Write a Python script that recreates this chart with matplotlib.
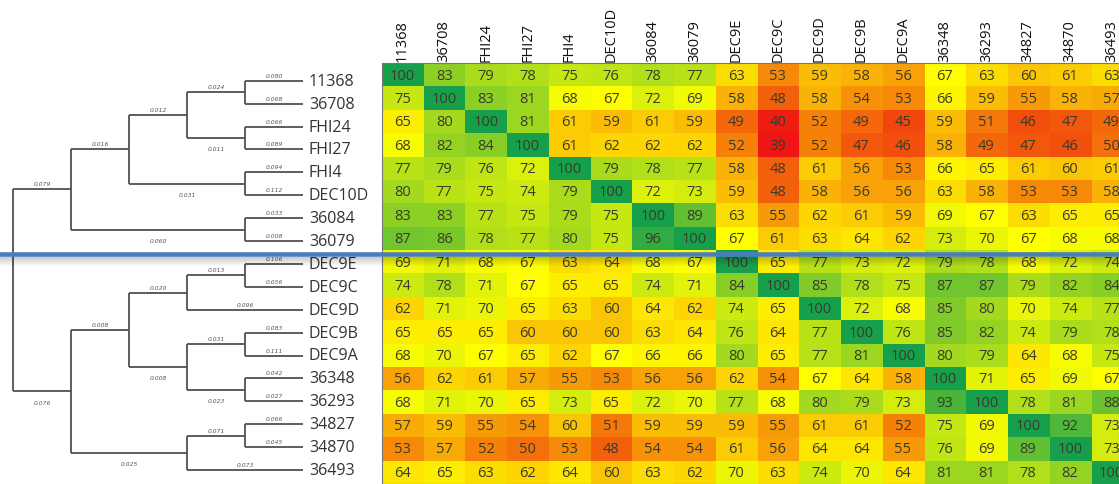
import matplotlib
matplotlib.use("Agg")
import matplotlib.pyplot as plt
import numpy as np
from matplotlib.colors import LinearSegmentedColormap, TwoSlopeNorm
from matplotlib.lines import Line2D

# ---------------- data ----------------
labels = ["11368", "36708", "FHI24", "FHI27", "FHI4", "DEC10D", "36084", "36079",
          "DEC9E", "DEC9C", "DEC9D", "DEC9B", "DEC9A", "36348", "36293",
          "34827", "34870", "36493"]

similarity = [
    [100, 83, 79, 78, 75, 76, 78, 77, 63, 53, 59, 58, 56, 67, 63, 60, 61, 63],
    [75, 100, 83, 81, 68, 67, 72, 69, 58, 48, 58, 54, 53, 66, 59, 55, 58, 57],
    [65, 80, 100, 81, 61, 59, 61, 59, 49, 40, 52, 49, 45, 59, 51, 46, 47, 49],
    [68, 82, 84, 100, 61, 62, 62, 62, 52, 39, 52, 47, 46, 58, 49, 47, 46, 50],
    [77, 79, 76, 72, 100, 79, 78, 77, 58, 48, 61, 56, 53, 66, 65, 61, 60, 61],
    [80, 77, 75, 74, 79, 100, 72, 73, 59, 48, 58, 56, 56, 63, 58, 53, 53, 58],
    [83, 83, 77, 75, 79, 75, 100, 89, 63, 55, 62, 61, 59, 69, 67, 63, 65, 65],
    [87, 86, 78, 77, 80, 75, 96, 100, 67, 61, 63, 64, 62, 73, 70, 67, 68, 68],
    [69, 71, 68, 67, 63, 64, 68, 67, 100, 65, 77, 73, 72, 79, 78, 68, 72, 74],
    [74, 78, 71, 67, 65, 65, 74, 71, 84, 100, 85, 78, 75, 87, 87, 79, 82, 84],
    [62, 71, 70, 65, 63, 60, 64, 62, 74, 65, 100, 72, 68, 85, 80, 70, 74, 77],
    [65, 65, 65, 60, 60, 60, 63, 64, 76, 64, 77, 100, 76, 85, 82, 74, 79, 78],
    [68, 70, 67, 65, 62, 67, 66, 66, 80, 65, 77, 81, 100, 80, 79, 64, 68, 75],
    [56, 62, 61, 57, 55, 53, 56, 56, 62, 54, 67, 64, 58, 100, 71, 65, 69, 67],
    [68, 71, 70, 65, 73, 65, 72, 70, 77, 68, 80, 79, 73, 93, 100, 78, 81, 88],
    [57, 59, 55, 54, 60, 51, 59, 59, 59, 55, 61, 61, 52, 75, 69, 100, 92, 73],
    [53, 57, 52, 50, 53, 48, 54, 54, 61, 56, 64, 64, 55, 76, 69, 89, 100, 73],
    [64, 65, 63, 62, 64, 60, 63, 62, 70, 63, 74, 70, 64, 81, 81, 78, 82, 100],
]

# tree: leaf = (name, branch_length); internal = ([children], branch_length)
tree = ([
    ([
        ([
            ([([("11368", 0.080), ("36708", 0.068)], 0.024),
              ([("FHI24", 0.066), ("FHI27", 0.089)], 0.011)], 0.012),
            ([("FHI4", 0.094), ("DEC10D", 0.112)], 0.031),
        ], 0.016),
        ([("36084", 0.033), ("36079", 0.008)], 0.060),
    ], 0.079),
    ([
        ([
            ([([("DEC9E", 0.106), ("DEC9C", 0.056)], 0.013), ("DEC9D", 0.096)], 0.020),
            ([([("DEC9B", 0.083), ("DEC9A", 0.111)], 0.031),
              ([("36348", 0.042), ("36293", 0.027)], 0.023)], 0.008),
        ], 0.008),
        ([([("34827", 0.066), ("34870", 0.045)], 0.071), ("36493", 0.073)], 0.025),
    ], 0.076),
], None)

# ---------------- figure ----------------
W, H = 1119, 485
fig = plt.figure(figsize=(W / 100, H / 100), dpi=100)
FONT = ["Open Sans", "DejaVu Sans"]

# ---- heatmap ----
hm_left, hm_top, col_w = 381.7, 64.4, 41.7
ax = fig.add_axes([hm_left / W, 0, 1 - hm_left / W, 1 - hm_top / H])
cmap = LinearSegmentedColormap.from_list("ryg", ["#ee1512", "#ffff00", "#17a04c"])
norm = TwoSlopeNorm(vmin=39, vcenter=67, vmax=100)
data = np.array(similarity)
ax.imshow(data, cmap=cmap, norm=norm, aspect="auto", interpolation="nearest")
n = len(labels)
ax.set_xlim(-0.5, -0.5 + (W - hm_left) / col_w)
ax.set_ylim(n - 0.5, -0.5)
for i in range(n):
    for j in range(n):
        ax.text(j, i, str(data[i, j]), ha="center", va="center",
                fontsize=10.5, color="#3a3a2a", family=FONT)
ax.xaxis.tick_top()
ax.set_xticks(range(n))
ax.set_xticklabels(labels, rotation=90, fontsize=10.5, family=FONT, color="#111111")
ax.tick_params(axis="x", length=0, pad=1.5)
ax.set_yticks([])
for s in ax.spines.values():
    s.set_color("#777777")
    s.set_linewidth(0.8)

# ---- dendrogram ----
leaf_top, leaf_step = 81.7, 22.9
level_px = 58.0
dax = fig.add_axes([0, 0, hm_left / W - 0.001, 1])
x_at = lambda px: (303 - px) / level_px
dax.set_xlim(x_at(0), x_at(hm_left - 1))
dax.set_ylim((H - leaf_top) / leaf_step, -leaf_top / leaf_step)
dax.axis("off")

LC = "#505050"
leaf_counter = [0]


def layout(node):
    name, blen = node
    if isinstance(name, str):
        y = leaf_counter[0]
        leaf_counter[0] += 1
        return y, 0, True
    kids = [layout(c) for c in name]
    h = 1 + max(k[1] for k in kids)
    ys = [k[0] for k in kids]
    dax.plot([h, h], [ys[0], ys[-1]], color=LC, lw=1.3, solid_capstyle="butt")
    for idx, ((cy, ch, is_leaf), child) in enumerate(zip(kids, name)):
        dax.plot([h, ch], [cy, cy], color=LC, lw=1.3, solid_capstyle="butt")
        xm = (h + ch) / 2
        if is_leaf or idx == 0:
            ty = cy - 0.24
        else:
            ty = cy + 0.48
        dax.text(xm, ty, f"{child[1]:.3f}", ha="center", va="center",
                 fontsize=4.3, style="italic", color="#555555")
    return (ys[0] + ys[-1]) / 2, h, False


layout(tree)
for i, lab in enumerate(labels):
    dax.text(x_at(309), i, lab, ha="left", va="center", fontsize=11.5,
             family=FONT, color="#333333")

# ---- blue separator line with soft shadow ----
for k in range(9):
    yk = 1 - (258 + k) / H
    fig.add_artist(Line2D([0, 1], [yk, yk], transform=fig.transFigure,
                          color="black", alpha=0.2 * (1 - k / 9), lw=0.72))
yb = 1 - 255 / H
fig.add_artist(Line2D([0, 1], [yb, yb], transform=fig.transFigure,
                      color="#4a7cc0", lw=3.3))

fig.savefig("out.png", dpi=100)
